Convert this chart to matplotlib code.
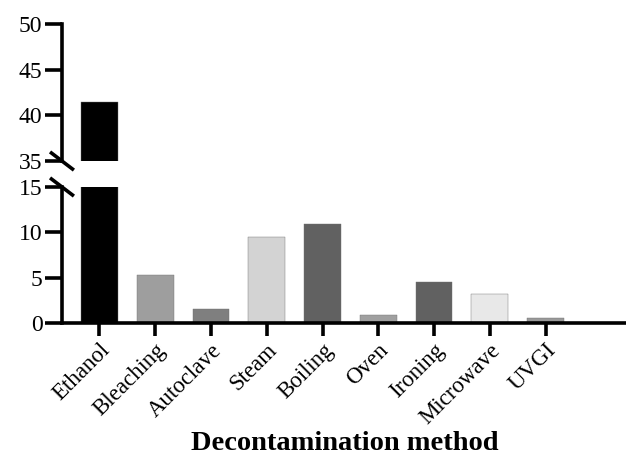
import numpy as np
import matplotlib
matplotlib.use("Agg")
import matplotlib.pyplot as plt

# data
methods = ['Ethanol', 'Bleaching', 'Autoclave', 'Steam', 'Boiling',
           'Oven', 'Ironing', 'Microwave', 'UVGI']
values = [41.5, 5.3, 1.5, 9.5, 10.9, 0.85, 4.5, 3.2, 0.55]
colors = ['#000000', '#9e9e9e', '#7f7f7f', '#d3d3d3', '#616161',
          '#a0a0a0', '#616161', '#e8e8e8', '#999999']
low_ticks = [0, 5, 10, 15]
high_ticks = [35, 40, 45, 50]

plt.rcParams['font.family'] = ['Liberation Serif', 'DejaVu Serif']

fig = plt.figure(figsize=(6.26, 4.59), dpi=100)
ax_lo = fig.add_axes([0.099, 0.2963, 0.901, 0.2963])
ax_hi = fig.add_axes([0.099, 0.6492, 0.901, 0.2985])

x = np.arange(len(methods))
lw = 2.6

for ax in (ax_lo, ax_hi):
    ax.bar(x, values, width=0.66, color=colors, edgecolor='#707070', linewidth=0.3)
    ax.set_xlim(-0.67, 9.44)
    for s in ['top', 'right']:
        ax.spines[s].set_visible(False)
    ax.spines['left'].set_linewidth(lw)
    ax.spines['bottom'].set_linewidth(lw)
    ax.tick_params(axis='y', length=12, width=lw, labelsize=17, pad=2)
    ax.tick_params(axis='x', length=9, width=lw, labelsize=16.5, pad=3)

ax_lo.set_ylim(0, 15)
ax_lo.set_yticks(low_ticks)
ax_lo.set_xticks(x)
ax_lo.set_xticklabels(methods, rotation=45, ha='right', rotation_mode='anchor')

ax_hi.set_ylim(35, 50)
ax_hi.set_yticks(high_ticks)
ax_hi.spines['bottom'].set_visible(False)
ax_hi.set_xticks([])

# break marks on the y axis
dx = 10.5 / (0.901 * 626)
dy_hi = 8 / (0.2985 * 459)
dy_lo = 8 / (0.2963 * 459)
ax_hi.plot([-dx, dx], [dy_hi, -dy_hi], transform=ax_hi.transAxes,
           color='black', lw=lw, clip_on=False)
ax_lo.plot([-dx, dx], [1 + dy_lo, 1 - dy_lo], transform=ax_lo.transAxes,
           color='black', lw=lw, clip_on=False)

fig.text(0.551, 0.006, 'Decontamination method', ha='center', va='bottom',
         fontsize=20.5, fontweight='bold')

fig.savefig('out.png', dpi=100)
